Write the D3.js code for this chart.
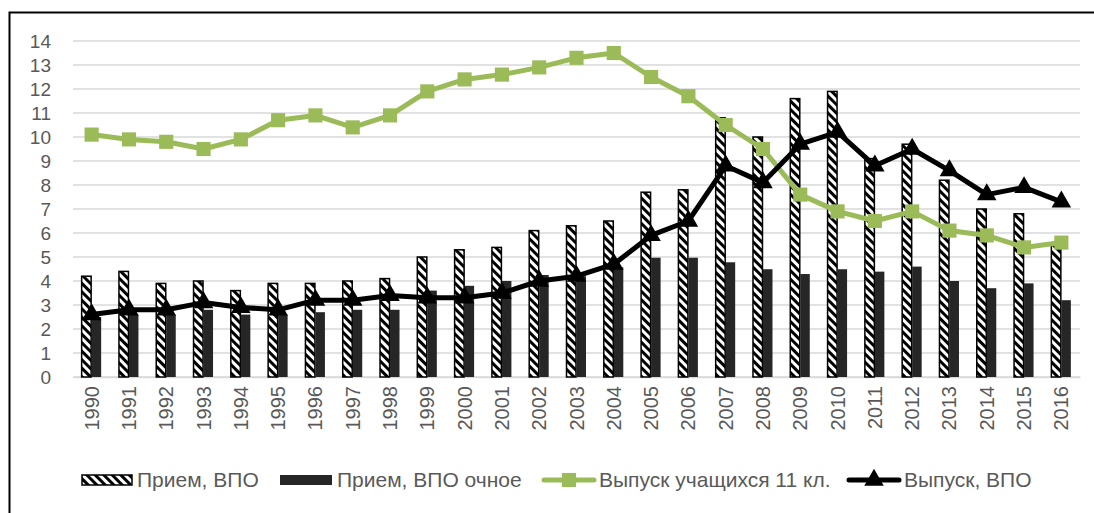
<!DOCTYPE html>
<html><head><meta charset="utf-8">
<script src="https://cdn.jsdelivr.net/npm/d3@7"></script>
<style>
html,body{margin:0;padding:0;background:#fff;}
svg{display:block;font-family:"Liberation Sans",Arial,sans-serif;}
</style></head>
<body>
<svg id="chart" width="1094" height="513"></svg>
<script>
const years = ["1990","1991","1992","1993","1994","1995","1996","1997","1998","1999","2000","2001","2002","2003","2004","2005","2006","2007","2008","2009","2010","2011","2012","2013","2014","2015","2016"];
const priemVPO = [4.2,4.4,3.9,4.0,3.6,3.9,3.9,4.0,4.1,5.0,5.3,5.4,6.1,6.3,6.5,7.7,7.8,10.8,10.0,11.6,11.9,9.1,9.7,8.2,7.0,6.8,5.5];
const priemOchnoe = [2.5,2.6,2.6,2.8,2.6,2.6,2.7,2.8,2.8,3.6,3.8,4.0,4.25,4.2,4.57,4.97,4.97,4.78,4.49,4.29,4.49,4.39,4.6,4.0,3.7,3.9,3.2];
const vypusk11 = [10.1,9.9,9.8,9.5,9.9,10.7,10.9,10.4,10.9,11.9,12.4,12.6,12.9,13.3,13.5,12.5,11.7,10.5,9.5,7.6,6.9,6.5,6.9,6.1,5.9,5.4,5.6];
const vypuskVPO = [2.6,2.8,2.8,3.1,2.9,2.8,3.2,3.2,3.4,3.3,3.3,3.5,4.0,4.2,4.7,5.9,6.5,8.8,8.1,9.7,10.2,8.8,9.5,8.6,7.6,7.9,7.3];
const yTicks = [0,1,2,3,4,5,6,7,8,9,10,11,12,13,14];
const seriesNames = ["Прием, ВПО","Прием, ВПО очное","Выпуск учащихся 11 кл.","Выпуск, ВПО"];

const svg = d3.select("#chart");
const textColor = "#595959";
const green = "#9bbb59";
const dark = "#262626";

// border
svg.append("rect").attr("x",9.5).attr("y",12.5).attr("width",1100).attr("height",520)
  .attr("fill","none").attr("stroke","#000").attr("stroke-width",2);

// hatch pattern
const defs = svg.append("defs");
const pat = defs.append("pattern").attr("id","hatch").attr("patternUnits","userSpaceOnUse")
  .attr("width",6).attr("height",6).attr("patternTransform","rotate(-45)");
pat.append("rect").attr("width",6).attr("height",6).attr("fill","#fff");
pat.append("rect").attr("x",0).attr("width",3).attr("height",6).attr("fill","#000");

const x = d3.scaleBand().domain(years).range([73,1080]).padding(0);
const y = d3.scaleLinear().domain([0,14]).range([377,41]);
const xSub = d3.scaleBand().domain([0,1]).range([-10,10]).padding(0);

// gridlines
svg.append("g").selectAll("line").data(yTicks).join("line")
  .attr("x1",73).attr("x2",1080).attr("y1",d=>y(d)).attr("y2",d=>y(d))
  .attr("stroke","#d9d9d9").attr("stroke-width",1.5);

// y axis labels
const yAxis = d3.axisLeft(y).tickValues(yTicks).tickSize(0).tickPadding(0).tickFormat(d3.format("d"));
const gy = svg.append("g").attr("transform","translate(51,0)").call(yAxis);
gy.select(".domain").remove();
gy.selectAll("text").attr("fill",textColor).style("font-size","19px").style("font-family","Liberation Sans, Arial, sans-serif");

// x axis labels
const xAxis = d3.axisBottom(x).tickSize(0).tickPadding(0);
const gx = svg.append("g").attr("transform","translate(0,377)").call(xAxis);
gx.select(".domain").attr("stroke","#d9d9d9").attr("stroke-width",1.5);
gx.selectAll("text").attr("fill",textColor).style("font-size","20px").style("font-family","Liberation Sans, Arial, sans-serif")
  .attr("transform","rotate(-90)").attr("text-anchor","end").attr("x",-9).attr("y",0).attr("dy","0.35em");

// bars
svg.append("g").selectAll("rect").data(years).join("rect")
  .attr("x",d=>x(d)+x.bandwidth()/2+xSub(0)).attr("width",xSub.bandwidth()-0.5)
  .attr("y",(d,i)=>y(priemVPO[i])).attr("height",(d,i)=>y(0)-y(priemVPO[i]))
  .attr("fill","url(#hatch)").attr("stroke","#000").attr("stroke-width",1.5);
svg.append("g").selectAll("rect").data(years).join("rect")
  .attr("x",d=>x(d)+x.bandwidth()/2+xSub(1)).attr("width",xSub.bandwidth()-0.5)
  .attr("y",(d,i)=>y(priemOchnoe[i])).attr("height",(d,i)=>y(0)-y(priemOchnoe[i]))
  .attr("fill",dark);

const cx = d=>x(d)+x.bandwidth()/2;
const line = d3.line().x(d=>cx(d[0])).y(d=>y(d[1]));

// green line
const gData = years.map((d,i)=>[d,vypusk11[i]]);
svg.append("path").datum(gData).attr("d",line).attr("fill","none").attr("stroke",green)
  .attr("stroke-width",5).attr("stroke-linejoin","round").attr("stroke-linecap","round");
const sq = d3.symbol().type(d3.symbolSquare).size(200);
svg.append("g").selectAll("path").data(gData).join("path")
  .attr("d",sq).attr("transform",d=>`translate(${cx(d[0])},${y(d[1])})`).attr("fill",green);

// black line
const bData = years.map((d,i)=>[d,vypuskVPO[i]]);
svg.append("path").datum(bData).attr("d",line).attr("fill","none").attr("stroke","#000")
  .attr("stroke-width",5).attr("stroke-linejoin","round").attr("stroke-linecap","round");
const tri = d3.symbol().type(d3.symbolTriangle).size(165);
svg.append("g").selectAll("path").data(bData).join("path")
  .attr("d",tri).attr("transform",d=>`translate(${cx(d[0])},${y(d[1])})`).attr("fill","#000");

// legend
const leg = svg.append("g").style("font-size","21px").attr("fill",textColor);
const ly = 480;
// item 1
leg.append("rect").attr("x",82).attr("y",ly-5).attr("width",50).attr("height",10)
  .attr("fill","url(#hatch)").attr("stroke","#000").attr("stroke-width",1.5);
leg.append("text").attr("x",137).attr("y",ly).attr("dy","0.35em").text(seriesNames[0]);
// item 2
leg.append("rect").attr("x",280).attr("y",ly-5).attr("width",52).attr("height",10).attr("fill",dark);
leg.append("text").attr("x",337).attr("y",ly).attr("dy","0.35em").text(seriesNames[1]);
// item 3
leg.append("line").attr("x1",544).attr("x2",594).attr("y1",ly).attr("y2",ly)
  .attr("stroke",green).attr("stroke-width",5).attr("stroke-linecap","round");
leg.append("path").attr("d",sq).attr("transform",`translate(569,${ly})`).attr("fill",green);
leg.append("text").attr("x",599).attr("y",ly).attr("dy","0.35em").text(seriesNames[2]);
// item 4
leg.append("line").attr("x1",849).attr("x2",899).attr("y1",ly).attr("y2",ly)
  .attr("stroke","#000").attr("stroke-width",5).attr("stroke-linecap","round");
leg.append("path").attr("d",tri).attr("transform",`translate(874,${ly})`).attr("fill","#000");
leg.append("text").attr("x",904).attr("y",ly).attr("dy","0.35em").text(seriesNames[3]);
</script>
</body></html>
